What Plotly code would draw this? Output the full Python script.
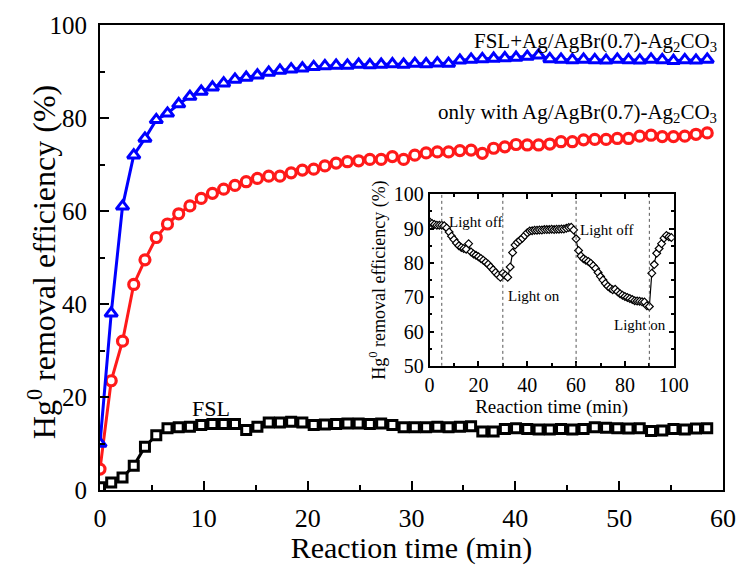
import plotly.graph_objects as go

# ---------------- data ----------------
time_min = [0, 1.08, 2.17, 3.25, 4.33, 5.42, 6.50, 7.58, 8.66, 9.75, 10.83, 11.91, 13.00, 14.08,
            15.16, 16.25, 17.33, 18.41, 19.49, 20.58, 21.66, 22.74, 23.83, 24.91, 25.99, 27.08,
            28.16, 29.24, 30.32, 31.41, 32.49, 33.57, 34.66, 35.74, 36.82, 37.91, 38.99, 40.07,
            41.15, 42.24, 43.32, 44.40, 45.49, 46.57, 47.65, 48.74, 49.82, 50.90, 51.98, 53.07,
            54.15, 55.23, 56.32, 57.40, 58.48]

fsl_plus_catalyst = [10, 38, 61, 72, 75.6, 79.6, 81, 83, 84.6, 85.7, 86.6, 87.5, 88.3, 88.7,
                     89.2, 89.8, 90.2, 90.5, 90.7, 91.0, 91.2, 91.3, 91.3, 91.5, 91.4, 91.5,
                     91.6, 91.5, 91.7, 91.6, 91.8, 91.7, 92.4, 92.6, 92.7, 92.8, 92.9, 93.0,
                     93.2, 93.5, 92.7, 92.6, 92.5, 92.6, 92.5, 92.4, 92.6, 92.5, 92.4, 92.6,
                     92.5, 92.3, 92.5, 92.4, 92.6]

catalyst_only = [4.5, 23.5, 32, 44.2, 49.5, 54.3, 57.2, 59.4, 61.1, 62.7, 63.8, 64.7, 65.5, 66.3,
                 67.0, 67.5, 67.5, 68.2, 68.8, 69.0, 69.7, 70.3, 70.6, 70.8, 71.1, 71.1, 71.7,
                 71.1, 72.0, 72.5, 72.7, 72.7, 73.0, 73.1, 72.4, 73.5, 73.8, 74.3, 74.2, 74.2,
                 74.4, 74.9, 74.9, 75.3, 75.4, 75.4, 75.6, 75.6, 76.1, 76.3, 76.0, 76.0, 76.1,
                 76.5, 76.8]

fsl_only = [0.6, 1.6, 2.7, 5.2, 9.3, 11.8, 13.3, 13.5, 13.6, 14.0, 14.2, 14.2, 14.2, 12.9,
            13.6, 14.5, 14.5, 14.7, 14.5, 14.0, 14.1, 14.2, 14.3, 14.3, 14.2, 14.3, 14.0,
            13.5, 13.5, 13.5, 13.6, 13.5, 13.6, 13.7, 12.6, 12.6, 13.1, 13.3, 13.1, 13.0,
            13.0, 13.1, 13.0, 13.1, 13.5, 13.4, 13.3, 13.2, 13.3, 12.7, 12.8, 13.1, 13.0,
            13.2, 13.3]

inset_time = list(range(0, 100))
inset_eff = [92.0, 91.5, 91.2, 91.0, 91.0, 91.0, 90.8, 90.2, 89.0, 87.8,
             86.8, 85.8, 85.0, 84.5, 84.2, 84.0, 85.6, 83.2, 82.6, 82.2,
             81.8, 81.3, 80.8, 80.2, 79.6, 78.8, 78.0, 77.2, 76.5, 75.8,
             77.0, 76.4, 75.8, 78.8, 83.0, 85.2, 86.0, 86.6, 87.2, 88.0,
             88.8, 89.3, 89.4, 89.5, 89.5, 89.6, 89.6, 89.7, 89.7, 89.7,
             89.8, 89.7, 89.8, 89.8, 89.9, 89.9, 90.1, 90.3, 90.4, 89.6,
             87.0, 83.6, 82.0, 81.2, 80.8, 80.4, 79.9, 79.2, 78.4, 77.2,
             76.0, 75.0, 74.0, 73.2, 72.6, 72.2, 72.3, 71.6, 71.0, 70.6,
             70.2, 69.9, 69.6, 69.3, 69.0, 68.9, 68.8, 68.7, 68.6, 67.5,
             67.3, 77.0, 79.5, 82.8, 84.2, 85.6, 87.2, 88.0, 87.6, 87.4]

light_switch_times = [5, 30, 60, 90]

FONT = "Liberation Serif"

fig = go.Figure()

fig.add_trace(go.Scatter(
    x=time_min, y=fsl_only, mode="lines+markers",
    line=dict(color="black", width=3),
    marker=dict(symbol="square", size=9, color="white", line=dict(color="black", width=3)),
    showlegend=False))
fig.add_trace(go.Scatter(
    x=time_min, y=catalyst_only, mode="lines+markers",
    line=dict(color="#ff1a1a", width=3),
    marker=dict(symbol="circle", size=10, color="white", line=dict(color="#ff1a1a", width=3.2)),
    showlegend=False))
fig.add_trace(go.Scatter(
    x=time_min, y=fsl_plus_catalyst, mode="lines+markers",
    line=dict(color="#0000ff", width=3),
    marker=dict(symbol="triangle-up", size=11, color="white", line=dict(color="#0000ff", width=3)),
    showlegend=False))

fig.add_trace(go.Scatter(
    x=inset_time, y=inset_eff, mode="lines+markers", xaxis="x2", yaxis="y2",
    line=dict(color="black", width=1.2),
    marker=dict(symbol="diamond", size=6, color="white", line=dict(color="black", width=1.2)),
    showlegend=False))

for t in light_switch_times:
    fig.add_shape(type="line", xref="x2", yref="y2", x0=t, x1=t, y0=50, y1=100,
                  line=dict(color="#555555", width=1, dash="dot"))

axis_common = dict(showline=True, linecolor="black", mirror=True, ticks="inside",
                   tickcolor="black", showgrid=False, zeroline=False, automargin=False)

fig.update_layout(
    width=739, height=565,
    margin=dict(l=100, r=16, t=25, b=75),
    paper_bgcolor="white", plot_bgcolor="white",
    font=dict(family=FONT, color="black"),
    xaxis=dict(**axis_common, range=[0, 60], dtick=10, linewidth=2, ticklen=9, tickwidth=2,
               minor=dict(dtick=5, ticks="inside", ticklen=5, tickwidth=2, tickcolor="black"),
               tickfont=dict(size=26, family=FONT), ticklabelstandoff=4,
               title=dict(text="Reaction time (min)", font=dict(size=30, family=FONT), standoff=12)),
    yaxis=dict(**axis_common, range=[0, 100], dtick=20, linewidth=2, ticklen=9, tickwidth=2,
               minor=dict(dtick=10, ticks="inside", ticklen=5, tickwidth=2, tickcolor="black"),
               tickfont=dict(size=25, family=FONT), ticklabelstandoff=6),
    xaxis2=dict(showline=True, linecolor="black", mirror="ticks", ticks="inside", tickcolor="black",
                showgrid=False, zeroline=False, anchor="y2", domain=[0.529, 0.921], automargin=False,
                range=[0, 100], dtick=20, linewidth=1.5, ticklen=5, tickwidth=1.5,
                minor=dict(dtick=10, ticks="inside", ticklen=3, tickwidth=1.5, tickcolor="black"),
                tickfont=dict(size=20, family=FONT),
                title=dict(text="Reaction time (min)", font=dict(size=19, family=FONT), standoff=4)),
    yaxis2=dict(showline=True, linecolor="black", mirror="ticks", ticks="inside", tickcolor="black",
                showgrid=False, zeroline=False, anchor="x2", domain=[0.267, 0.636], automargin=False,
                range=[50, 100], dtick=10, linewidth=1.5, ticklen=5, tickwidth=1.5,
                minor=dict(dtick=5, ticks="inside", ticklen=3, tickwidth=1.5, tickcolor="black"),
                tickfont=dict(size=20, family=FONT),
                title=dict(text="Hg<sup>0</sup> removal efficiency (%)", font=dict(size=18, family=FONT),
                           standoff=4)),
)

annotations = [
    dict(text="Hg<sup>0</sup> removal efficiency (%)", x=-0.093, y=0.49, xref="paper", yref="paper",
         xanchor="center", yanchor="middle", textangle=-90, font=dict(size=32)),
    dict(text="FSL+Ag/AgBr(0.7)-Ag<sub>2</sub>CO<sub>3</sub>", x=59.6, y=96.3, xref="x", yref="y",
         xanchor="right", yanchor="middle", font=dict(size=21)),
    dict(text="only with Ag/AgBr(0.7)-Ag<sub>2</sub>CO<sub>3</sub>", x=59.6, y=81, xref="x", yref="y",
         xanchor="right", yanchor="middle", font=dict(size=21)),
    dict(text="FSL", x=10.7, y=17.6, xref="x", yref="y", xanchor="center", yanchor="middle",
         font=dict(size=22)),
    dict(text="Light off", x=7.0, y=92, xref="x2", yref="y2", xanchor="left", yanchor="middle",
         font=dict(size=15)),
    dict(text="Light on", x=31.5, y=70.4, xref="x2", yref="y2", xanchor="left", yanchor="middle",
         font=dict(size=15)),
    dict(text="Light off", x=60.8, y=89.6, xref="x2", yref="y2", xanchor="left", yanchor="middle",
         font=dict(size=15)),
    dict(text="Light on", x=74.8, y=62, xref="x2", yref="y2", xanchor="left", yanchor="middle",
         font=dict(size=15)),
]
for a in annotations:
    a["showarrow"] = False
    a["font"]["family"] = FONT
    a["font"]["color"] = "black"
fig.update_layout(annotations=annotations)

fig.write_html("out.html")
